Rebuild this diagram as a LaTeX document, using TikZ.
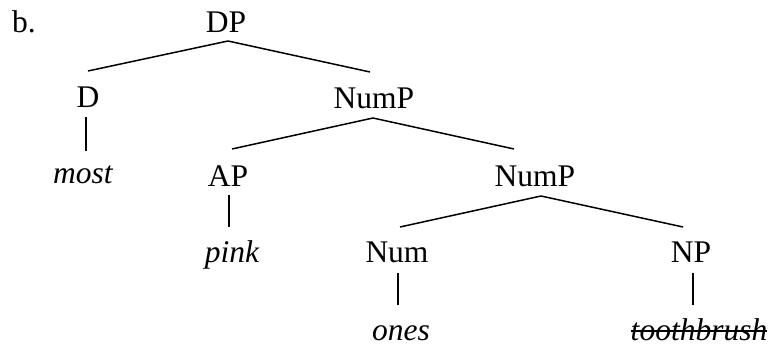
\documentclass[tikz,border=0pt]{standalone}
\usepackage{fontspec}
\setmainfont{Liberation Serif}
\usetikzlibrary{calc}
\begin{document}
\begin{tikzpicture}[x=1pt,y=1pt,
  lab/.style={anchor=base,inner sep=0pt,font=\fontsize{31.5}{36}\selectfont},
  leaf/.style={lab,font=\fontsize{31.5}{36}\selectfont\itshape},
  edge/.style={line width=1.5pt}]
\useasboundingbox (0,0) rectangle (771,-347);
\node[lab] (b) at (24,-33) {b.};
\node[lab] (DP) at (226,-33) {DP};
\node[lab] (D) at (88,-108) {D};
\node[lab] (NumP1) at (374,-109) {NumP};
\node[leaf] (most) at (83,-184) {most};
\node[lab] (AP) at (228,-187) {AP};
\node[lab] (NumP2) at (535,-187) {NumP};
\node[leaf] (pink) at (232,-263) {pink};
\node[lab] (Num) at (397,-263) {Num};
\node[lab] (NP) at (691,-263) {NP};
\node[leaf] (ones) at (401,-340) {ones};
\node[leaf] (tb) at (699,-341) {toothbrush};
% branches
\coordinate (DPa) at ($(DP.base)+(2,-8)$);
\draw[edge] (DPa) -- ($(D.base)+(0,37)$);
\draw[edge] (DPa) -- ($(NumP1.base)+(-4,37)$);
\coordinate (NP1a) at ($(NumP1.base)+(-1,-9)$);
\draw[edge] (NP1a) -- ($(AP.base)+(4,38)$);
\draw[edge] (NP1a) -- ($(NumP2.base)+(-21,38)$);
\coordinate (NP2a) at ($(NumP2.base)+(6,-9)$);
\draw[edge] (NP2a) -- ($(Num.base)+(3,36)$);
\draw[edge] (NP2a) -- ($(NP.base)+(-8,36)$);
% unary
\draw[edge] ($(D.base)+(-2,-9)$) -- ($(D.base|-most.base)+(-2,33)$);
\draw[edge] ($(AP.base)+(1,-8)$) -- ($(AP.base|-pink.base)+(1,36)$);
\draw[edge] ($(Num.base)+(1,-10)$) -- ($(Num.base|-ones.base)+(1,35)$);
\draw[edge] ($(NP.base)+(2,-10)$) -- ($(NP.base|-ones.base)+(2,35)$);
% strike-through
\draw[line width=1.8pt] ($(tb.base west)+(0,10)$) -- ($(tb.base east)+(0,10)$);
\end{tikzpicture}
\end{document}
